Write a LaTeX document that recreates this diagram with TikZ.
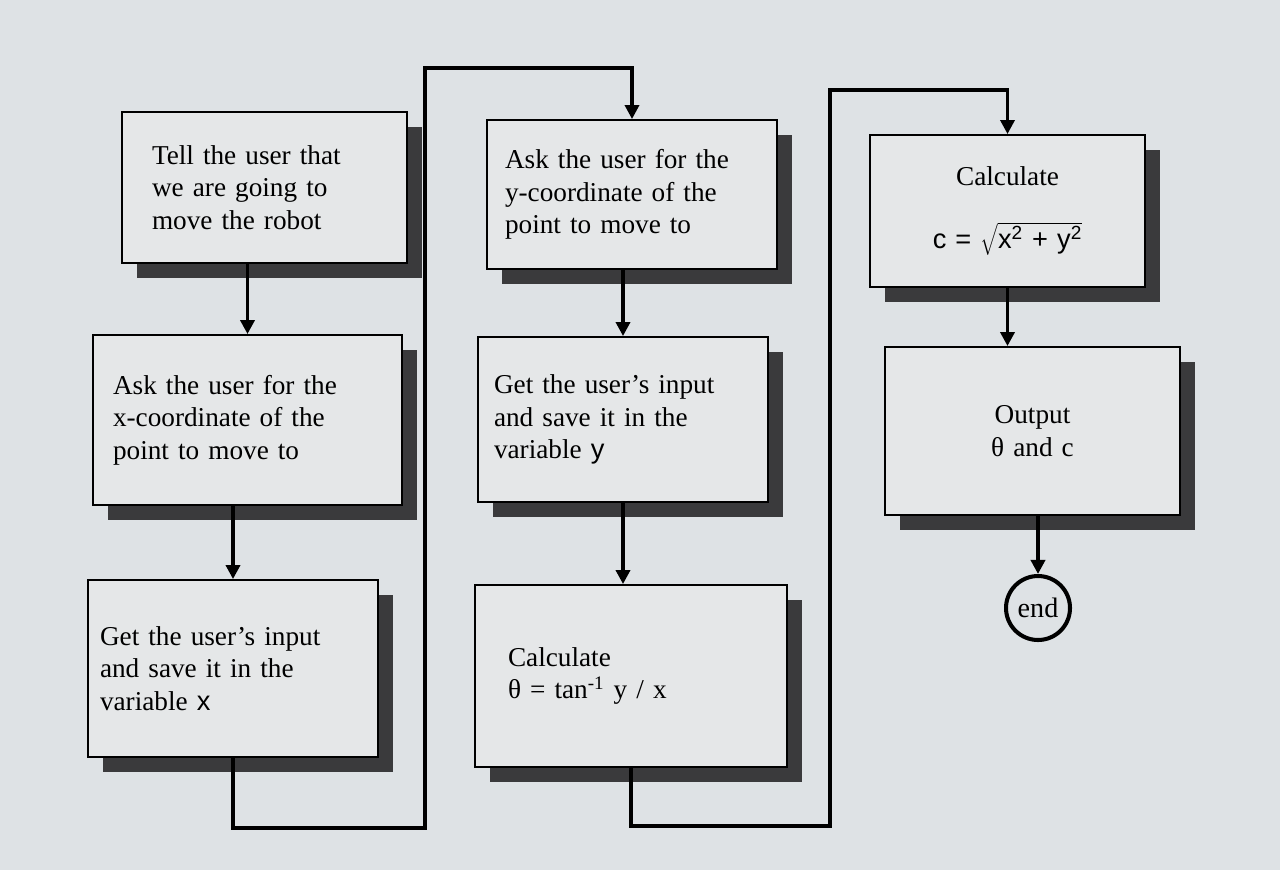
\documentclass[tikz,border=0pt]{standalone}
\usepackage{fontspec}
\setmainfont{Liberation Serif}
\newfontfamily\sansvar{Liberation Sans}
\usetikzlibrary{arrows.meta,shadows}

\begin{document}
\begin{tikzpicture}[x=0.02cm, y=-0.02cm,
        stepbox/.style={draw, line width=1.1pt, fill=boxgray, align=left,
            font=\fontsize{15.5}{18.5}\selectfont,
            drop shadow={shadow xshift=0.3cm, shadow yshift=-0.3cm, fill=shadowgray, opacity=1}},
        flow/.style={line width=2.2pt, -{Triangle[width=8pt, length=8pt]}},
        loopline/.style={line width=1.9pt, -{Triangle[width=8pt, length=8pt]}}]
        \definecolor{bggray}{RGB}{222, 226, 229}
        \definecolor{boxgray}{RGB}{229, 231, 232}
        \definecolor{shadowgray}{RGB}{58, 58, 60}
        \fill[bggray] (0, 0) rectangle (1280, 870);

        \node[stepbox, inner xsep=0.6cm, text width=4.5cm, minimum height=3.02cm] (tell) at (264.5, 187.5)
            {Tell the user that\\we are going to\\move the robot\\[0.15cm]};
        \node[stepbox, inner xsep=0.4cm, text width=5.38cm, minimum height=3.4cm] (askx) at (247.5, 420)
            {Ask the user for the\\x-coordinate of the\\point to move to\\[0.4cm]};
        \node[stepbox, inner xsep=0.24cm, text width=5.32cm, minimum height=3.54cm] (getx) at (233, 668.5)
            {Get the user’s input\\and save it in the\\variable {\sansvar x}\\[0.25cm]};

        \node[stepbox, inner xsep=0.36cm, text width=5.08cm, minimum height=2.98cm] (asky) at (632, 194.5)
            {Ask the user for the\\y-coordinate of the\\point to move to\\[0.35cm]};
        \node[stepbox, inner xsep=0.32cm, text width=5.16cm, minimum height=3.3cm] (gety) at (623, 419.5)
            {Get the user’s input\\and save it in the\\variable {\sansvar y}\\[0.3cm]};
        \node[stepbox, inner xsep=0.66cm, text width=4.92cm, minimum height=3.64cm] (calct) at (631, 676)
            {Calculate\\θ = tan\textsuperscript{-1} y / x\\[0.15cm]};

        \node[stepbox, align=center, inner xsep=0.2cm, text width=5.1cm, minimum height=3.04cm] (calcc) at (1007.5, 211)
            {Calculate\\[0.6cm]{\sansvar c = $\sqrt{\hbox{\sansvar x\textsuperscript{2} + y\textsuperscript{2}}}$}};
        \node[stepbox, align=center, inner xsep=0.2cm, text width=5.5cm, minimum height=3.36cm] (output) at (1032.5, 431)
            {Output\\θ and c\\[0.2cm]};
        \node[circle, draw, line width=2.3pt, fill=bggray, minimum size=1.28cm, inner sep=0pt,
            font=\fontsize{16}{18.5}\selectfont] (endc) at (1038, 608) {end};

        \draw[flow] (tell.south -| askx.north) -- (askx.north);
        \draw[flow] (askx.south -| getx.north) -- (getx.north);
        \draw[flow] (asky.south -| gety.north) -- (gety.north);
        \draw[flow] (gety.south) -- (gety.south |- calct.north);
        \draw[flow] (calcc.south) -- (calcc.south |- output.north);
        \draw[flow] (output.south -| endc.north) -- (endc.north);

        \coordinate (loopa) at (425, 828);
        \coordinate (loopatop) at (425, 68);
        \coordinate (loopb) at (830, 826);
        \coordinate (loopbtop) at (830, 90);
        \draw[loopline] (getx.south) |- (loopa) -- (loopatop) -| (asky.north);
        \draw[loopline] (calct.south) |- (loopb) -- (loopbtop) -| (calcc.north);
    \end{tikzpicture}
\end{document}
